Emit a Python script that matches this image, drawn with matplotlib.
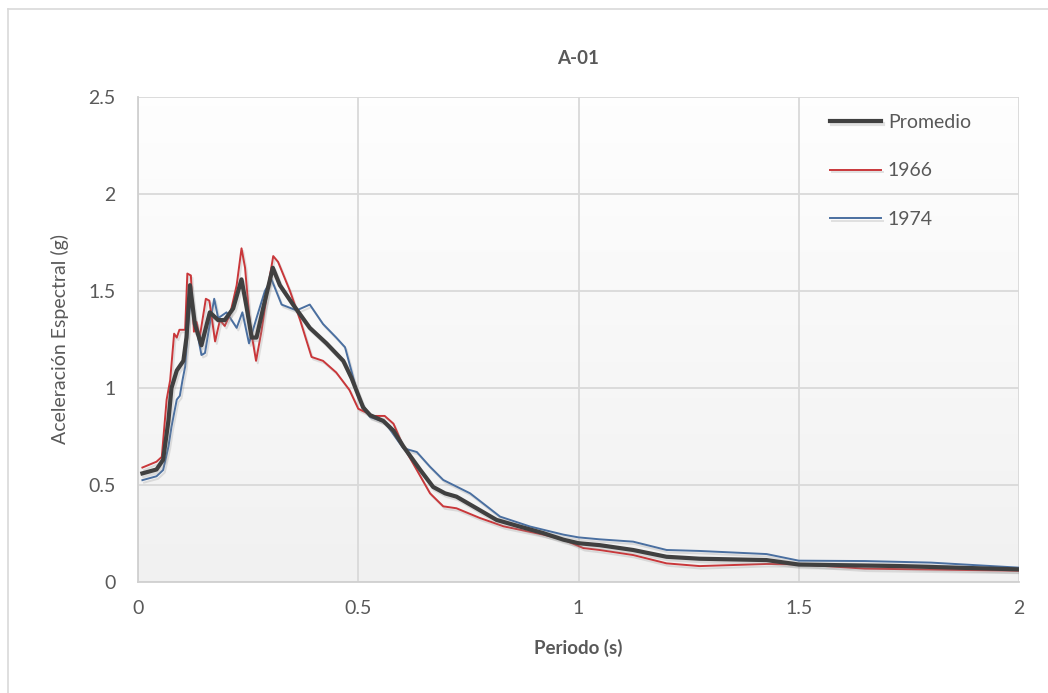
import matplotlib.pyplot as plt
import matplotlib.patheffects as pe
import numpy as np

# Periodo (s) y aceleracion espectral (g)
x_prom = [0.01, 0.042, 0.057, 0.069, 0.076, 0.088, 0.103, 0.11, 0.118, 0.129, 0.144,
          0.163, 0.182, 0.197, 0.216, 0.235, 0.247, 0.258, 0.269, 0.284, 0.306, 0.322,
          0.352, 0.39, 0.428, 0.466, 0.485, 0.511, 0.527, 0.557, 0.58, 0.602, 0.64,
          0.67, 0.697, 0.723, 0.761, 0.814, 0.86, 0.92, 0.966, 1.0, 1.048, 1.124,
          1.2, 1.275, 1.427, 1.5, 1.73, 2.0]
y_prom = [0.56, 0.58, 0.63, 0.83, 1.0, 1.09, 1.14, 1.26, 1.53, 1.33, 1.22,
          1.39, 1.35, 1.35, 1.41, 1.56, 1.41, 1.26, 1.26, 1.41, 1.62, 1.53,
          1.43, 1.31, 1.23, 1.14, 1.05, 0.9, 0.86, 0.83, 0.78, 0.7, 0.58,
          0.49, 0.457, 0.44, 0.39, 0.32, 0.29, 0.252, 0.218, 0.2, 0.19, 0.165,
          0.13, 0.12, 0.113, 0.09, 0.082, 0.065]

x_1966 = [0.01, 0.042, 0.054, 0.065, 0.073, 0.082, 0.088, 0.094, 0.107, 0.112, 0.12,
          0.127, 0.133, 0.14, 0.154, 0.162, 0.175, 0.186, 0.197, 0.209, 0.224, 0.235,
          0.243, 0.254, 0.268, 0.28, 0.296, 0.307, 0.318, 0.345, 0.368, 0.394, 0.42,
          0.45, 0.48, 0.5, 0.534, 0.56, 0.58, 0.602, 0.633, 0.663, 0.693, 0.723,
          0.776, 0.83, 0.92, 0.966, 1.011, 1.048, 1.124, 1.2, 1.275, 1.427, 1.5,
          1.65, 2.0]
y_1966 = [0.59, 0.62, 0.645, 0.94, 1.04, 1.28, 1.26, 1.3, 1.3, 1.59, 1.58,
          1.29, 1.34, 1.26, 1.46, 1.45, 1.24, 1.35, 1.32, 1.38, 1.53, 1.72,
          1.62, 1.33, 1.14, 1.29, 1.53, 1.68, 1.65, 1.5, 1.35, 1.16, 1.14,
          1.08, 0.99, 0.893, 0.856, 0.856, 0.816, 0.7, 0.577, 0.457, 0.39, 0.38,
          0.33, 0.287, 0.244, 0.218, 0.175, 0.165, 0.139, 0.096, 0.082, 0.093, 0.091,
          0.069, 0.058]

x_1974 = [0.01, 0.042, 0.057, 0.069, 0.076, 0.088, 0.095, 0.101, 0.107, 0.114, 0.12,
          0.129, 0.144, 0.152, 0.163, 0.173, 0.182, 0.201, 0.224, 0.237, 0.252, 0.269,
          0.288, 0.303, 0.326, 0.36, 0.39, 0.42, 0.45, 0.47, 0.489, 0.5, 0.527,
          0.56, 0.602, 0.633, 0.663, 0.693, 0.754, 0.822, 0.89, 0.966, 1.0, 1.048,
          1.124, 1.2, 1.275, 1.427, 1.5, 1.65, 1.8, 2.0]
y_1974 = [0.525, 0.545, 0.577, 0.697, 0.8, 0.94, 0.96, 1.04, 1.11, 1.33, 1.47,
          1.35, 1.17, 1.18, 1.33, 1.46, 1.36, 1.39, 1.31, 1.39, 1.23, 1.36,
          1.5, 1.56, 1.43, 1.4, 1.43, 1.33, 1.26, 1.21, 1.05, 0.953, 0.85,
          0.825, 0.69, 0.67, 0.594, 0.526, 0.457, 0.337, 0.286, 0.244, 0.23, 0.22,
          0.208, 0.165, 0.16, 0.144, 0.11, 0.108, 0.1, 0.074]

plt.rcParams['font.family'] = ['Lato', 'DejaVu Sans']
txt = '#595959'
grid = '#D9D9D9'

fig = plt.figure(figsize=(10.48, 6.93), dpi=100)
ax = fig.add_axes([138 / 1048, 111 / 693, 881 / 1048, 485 / 693])

# borde del area del grafico
fig.add_artist(plt.Line2D([8 / 1048, 8 / 1048], [0, 684 / 693], transform=fig.transFigure,
                          color=grid, lw=1.2))
fig.add_artist(plt.Line2D([8 / 1048, 1], [684 / 693, 684 / 693], transform=fig.transFigure,
                          color=grid, lw=1.2))

# fondo degradado (blanco arriba, gris claro abajo)
g = np.linspace(0.997, 0.945, 256)
grad = np.dstack([g, g, g]).reshape(256, 1, 3)
ax.imshow(grad, extent=[0, 2, 0, 2.5], aspect='auto', zorder=0, origin='upper')

shadow = [pe.SimpleLineShadow(offset=(1.2, -1.8), shadow_color='#909090', alpha=0.25),
          pe.Normal()]
ax.plot(x_prom, y_prom, color='#404040', lw=3.0, label='Promedio', zorder=5,
        path_effects=shadow, solid_joinstyle='round')
ax.plot(x_1966, y_1966, color='#C9373A', lw=1.4, label='1966', zorder=4,
        path_effects=shadow, solid_joinstyle='round')
ax.plot(x_1974, y_1974, color='#4A6FA0', lw=1.4, label='1974', zorder=3,
        path_effects=shadow, solid_joinstyle='round')

ax.set_xlim(0, 2)
ax.set_ylim(0, 2.5)
ax.set_xticks([0, 0.5, 1, 1.5, 2])
ax.set_xticklabels(['0', '0.5', '1', '1.5', '2'])
ax.set_yticks([0, 0.5, 1, 1.5, 2, 2.5])
ax.set_yticklabels(['0', '0.5', '1', '1.5', '2', '2.5'])
ax.tick_params(length=0, labelsize=14, colors=txt)
ax.tick_params(axis='y', pad=16)
ax.tick_params(axis='x', pad=13)
ax.grid(True, color=grid, lw=1.3, zorder=1)
ax.set_axisbelow(True)
for s in ['top', 'right']:
    ax.spines[s].set_visible(False)
for s in ['left', 'bottom']:
    ax.spines[s].set_color('#D0D0D0')
    ax.spines[s].set_linewidth(1.3)

ax.set_title('A-01', fontsize=13.5, fontweight='bold', color=txt, pad=24)
ax.set_xlabel('Periodo (s)', fontsize=13.5, fontweight='bold', color=txt, labelpad=16)
ax.set_ylabel('Aceleración Espectral (g)', fontsize=14, color=txt, labelpad=14)

leg = ax.legend(loc='upper left', bbox_to_anchor=(0.775, 0.985), frameon=False,
                fontsize=14, labelcolor=txt, handlelength=2.6, handletextpad=0.35,
                labelspacing=1.62, borderpad=0)

fig.savefig('out.png', dpi=100)
